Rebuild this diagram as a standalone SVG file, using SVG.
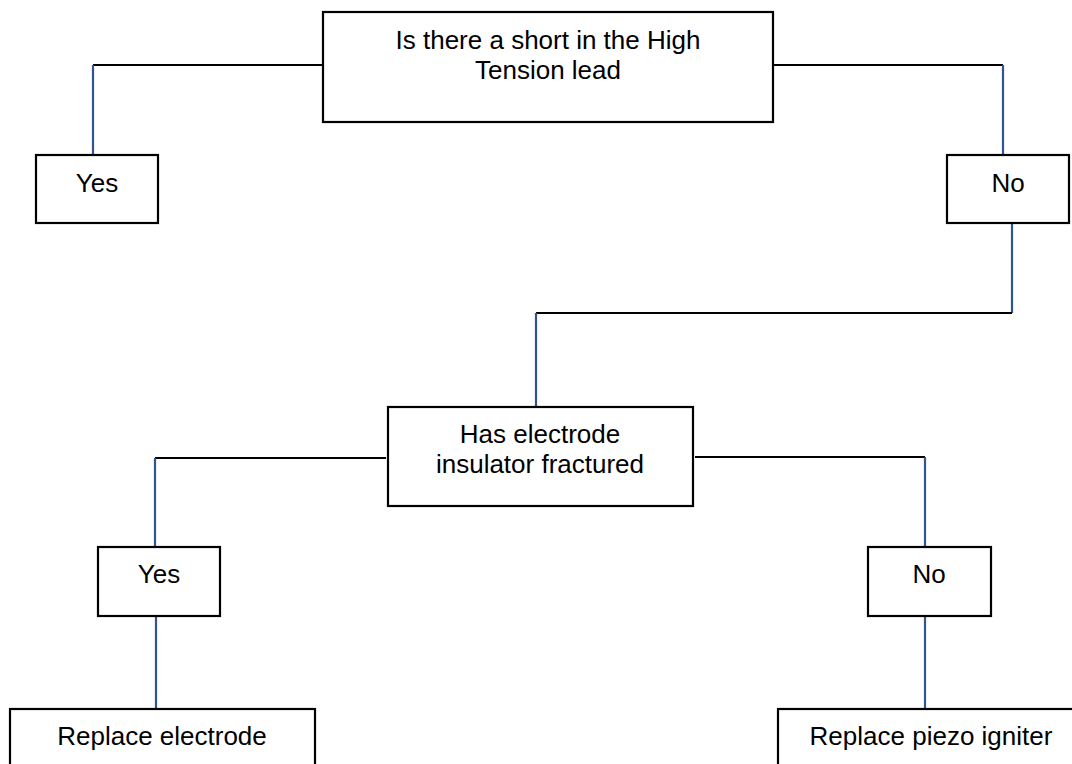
<svg xmlns="http://www.w3.org/2000/svg" width="1072" height="764" viewBox="0 0 1072 764">
<style>
.box{fill:#fff;stroke:#000;stroke-width:2.2}
.h{stroke:#000;stroke-width:2.2;fill:none}
.v{stroke:#30568f;stroke-width:2.2;fill:none}
text{font-family:"Liberation Sans",Arial,sans-serif;font-size:26px;fill:#000;text-anchor:middle}
</style>
<rect width="1072" height="764" fill="#fff"/>
<g id="connectors">
<line class="h" x1="93" y1="65" x2="323" y2="65"/>
<line class="v" x1="93" y1="65" x2="93" y2="155"/>
<line class="h" x1="773" y1="65" x2="1003" y2="65"/>
<line class="v" x1="1003" y1="65" x2="1003" y2="155"/>
<line class="v" x1="1012" y1="223" x2="1012" y2="313"/>
<line class="h" x1="536" y1="313" x2="1012" y2="313"/>
<line class="v" x1="536" y1="313" x2="536" y2="407"/>
<line class="h" x1="155" y1="458" x2="386" y2="458"/>
<line class="v" x1="155" y1="458" x2="155" y2="547"/>
<line class="h" x1="695" y1="457" x2="925" y2="457"/>
<line class="v" x1="925" y1="457" x2="925" y2="547"/>
<line class="v" x1="156" y1="616" x2="156" y2="709"/>
<line class="v" x1="925" y1="616" x2="925" y2="709"/>
</g>
<g id="q1">
<rect class="box" x="323" y="12" width="450" height="110"/>
<text x="548" y="49">Is there a short in the High</text>
<text x="548" y="79">Tension lead</text>
</g>
<g id="yes1">
<rect class="box" x="36" y="155" width="122" height="68"/>
<text x="97" y="192">Yes</text>
</g>
<g id="no1">
<rect class="box" x="947" y="155" width="122" height="68"/>
<text x="1008" y="192">No</text>
</g>
<g id="q2">
<rect class="box" x="388" y="407" width="305" height="99"/>
<text x="540" y="443">Has electrode</text>
<text x="540" y="473">insulator fractured</text>
</g>
<g id="yes2">
<rect class="box" x="98" y="547" width="122" height="69"/>
<text x="159" y="583">Yes</text>
</g>
<g id="no2">
<rect class="box" x="868" y="547" width="123" height="69"/>
<text x="929" y="583">No</text>
</g>
<g id="replace-electrode">
<rect class="box" x="10" y="709" width="305" height="80"/>
<text x="162" y="745">Replace electrode</text>
</g>
<g id="replace-piezo">
<rect class="box" x="778" y="709" width="310" height="80"/>
<text x="931" y="745">Replace piezo igniter</text>
</g>
</svg>
